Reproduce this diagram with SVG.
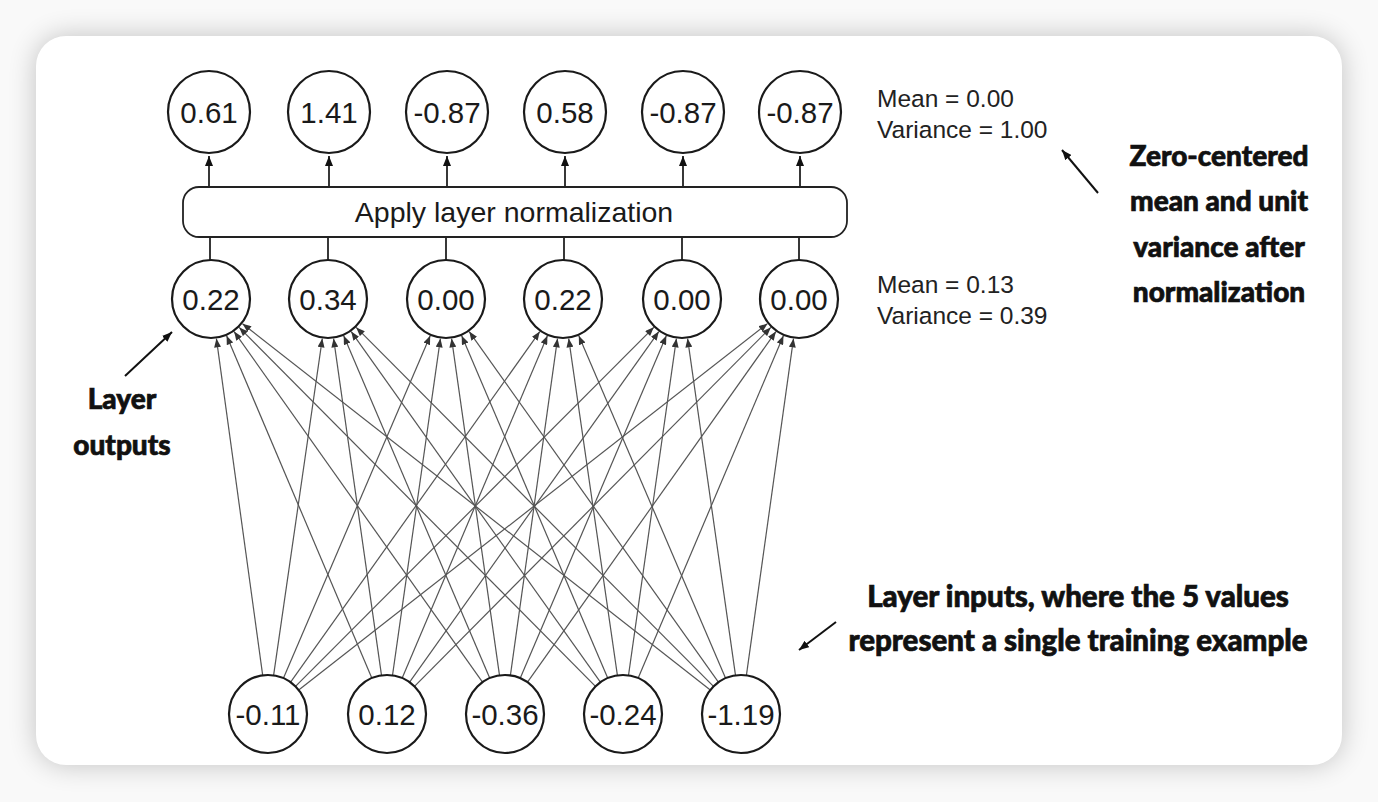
<svg xmlns="http://www.w3.org/2000/svg" width="1378" height="802" viewBox="0 0 1378 802">
<defs>
<filter id="sh" x="-10%" y="-10%" width="120%" height="120%">
<feGaussianBlur stdDeviation="14"/>
</filter>
<marker id="ah" viewBox="0 0 10 8" refX="10" refY="4" markerWidth="9" markerHeight="7" markerUnits="userSpaceOnUse" orient="auto">
<path d="M0,0 L10,4 L0,8 z" fill="#333"/>
</marker>
<marker id="ak" viewBox="0 0 10 8" refX="10" refY="4" markerWidth="10" markerHeight="8" markerUnits="userSpaceOnUse" orient="auto">
<path d="M0,0 L10,4 L0,8 z" fill="#111"/>
</marker>
<style>
.n circle{fill:#fff;stroke:#1a1a1a;stroke-width:2.2}
.n text{font-family:"Liberation Sans",Arial,sans-serif;font-size:29.5px;fill:#1a1a1a;text-anchor:middle}
.e line{stroke:#555;stroke-width:1.2;marker-end:url(#ah)}
.v line{stroke:#222;stroke-width:1.8}
.v .up{marker-end:url(#ak)}
.st{font-family:"Liberation Sans",Arial,sans-serif;font-size:24.5px;fill:#222}
.lb{font-family:Lato,"Open Sans",sans-serif;font-weight:900;font-size:28px;fill:#111;stroke:#111;stroke-width:0.7;text-anchor:middle}
.lb2{font-size:29.5px}
.an{stroke:#111;stroke-width:2;marker-end:url(#ak)}
</style>
</defs>
<rect width="1378" height="802" fill="#f9f9f9"/>
<rect x="36" y="36" width="1306" height="729" rx="30" fill="#000" opacity="0.22" filter="url(#sh)"/>
<rect x="36" y="36" width="1306" height="729" rx="30" fill="#fff"/>

<g id="connectors">
<g class="e">
<line x1="262.7" y1="675.4" x2="216.4" y2="338.6"/>
<line x1="273.6" y1="675.4" x2="322.3" y2="338.6"/>
<line x1="283.4" y1="678.2" x2="430.2" y2="335.8"/>
<line x1="290.6" y1="682.2" x2="539.8" y2="331.6"/>
<line x1="295.5" y1="686.4" x2="653.8" y2="327.3"/>
<line x1="298.7" y1="690.0" x2="767.5" y2="323.6"/>
<line x1="371.8" y1="678.1" x2="226.6" y2="335.8"/>
<line x1="381.5" y1="675.4" x2="333.6" y2="338.6"/>
<line x1="392.5" y1="675.4" x2="440.4" y2="338.6"/>
<line x1="402.2" y1="678.1" x2="547.4" y2="335.8"/>
<line x1="409.6" y1="682.2" x2="658.8" y2="331.6"/>
<line x1="414.5" y1="686.3" x2="770.8" y2="327.4"/>
<line x1="482.5" y1="682.2" x2="234.1" y2="331.6"/>
<line x1="489.7" y1="678.1" x2="343.7" y2="335.8"/>
<line x1="499.5" y1="675.4" x2="451.6" y2="338.6"/>
<line x1="510.4" y1="675.4" x2="557.5" y2="338.6"/>
<line x1="520.3" y1="678.1" x2="666.3" y2="335.8"/>
<line x1="527.5" y1="682.2" x2="775.9" y2="331.6"/>
<line x1="595.5" y1="686.3" x2="239.2" y2="327.4"/>
<line x1="600.4" y1="682.2" x2="351.2" y2="331.6"/>
<line x1="607.7" y1="678.1" x2="461.7" y2="335.8"/>
<line x1="617.4" y1="675.4" x2="568.7" y2="338.6"/>
<line x1="628.5" y1="675.4" x2="676.4" y2="338.6"/>
<line x1="638.2" y1="678.1" x2="783.4" y2="335.8"/>
<line x1="710.3" y1="690.0" x2="242.5" y2="323.7"/>
<line x1="713.5" y1="686.4" x2="356.2" y2="327.4"/>
<line x1="718.4" y1="682.2" x2="469.2" y2="331.6"/>
<line x1="725.6" y1="678.2" x2="578.8" y2="335.8"/>
<line x1="735.5" y1="675.4" x2="687.6" y2="338.6"/>
<line x1="746.4" y1="675.4" x2="793.5" y2="338.6"/>
</g>
<g class="v">
<line x1="210" y1="260" x2="210" y2="237"/>
<line x1="328" y1="260" x2="328" y2="237"/>
<line x1="446" y1="260" x2="446" y2="237"/>
<line x1="564" y1="260" x2="564" y2="237"/>
<line x1="682" y1="260" x2="682" y2="237"/>
<line x1="799" y1="260" x2="799" y2="237"/>
<line class="up" x1="209" y1="187" x2="209" y2="156"/>
<line class="up" x1="329" y1="187" x2="329" y2="156"/>
<line class="up" x1="447" y1="187" x2="447" y2="156"/>
<line class="up" x1="565" y1="187" x2="565" y2="156"/>
<line class="up" x1="683" y1="187" x2="683" y2="156"/>
<line class="up" x1="800" y1="187" x2="800" y2="156"/>
</g>
<line class="an" x1="1098" y1="193" x2="1062" y2="150"/>
<line class="an" x1="125" y1="376" x2="172" y2="332"/>
<line class="an" x1="836" y1="622" x2="799" y2="650"/>
</g>

<g id="norm">
<rect x="183" y="187" width="664" height="50" rx="16" fill="#fff" stroke="#222" stroke-width="1.8"/>
<text x="514" y="222" font-family="Liberation Sans,Arial,sans-serif" font-size="28.5" fill="#1a1a1a" text-anchor="middle">Apply layer normalization</text>
</g>

<g id="out1" class="n"><circle cx="209" cy="112" r="41"/><text x="209" y="123">0.61</text></g>
<g id="out2" class="n"><circle cx="329" cy="112" r="41"/><text x="329" y="123">1.41</text></g>
<g id="out3" class="n"><circle cx="447" cy="112" r="41"/><text x="447" y="123">-0.87</text></g>
<g id="out4" class="n"><circle cx="565" cy="112" r="41"/><text x="565" y="123">0.58</text></g>
<g id="out5" class="n"><circle cx="683" cy="112" r="41"/><text x="683" y="123">-0.87</text></g>
<g id="out6" class="n"><circle cx="800" cy="112" r="41"/><text x="800" y="123">-0.87</text></g>

<g id="mid1" class="n"><circle cx="211" cy="299" r="39"/><text x="211" y="310">0.22</text></g>
<g id="mid2" class="n"><circle cx="328" cy="299" r="39"/><text x="328" y="310">0.34</text></g>
<g id="mid3" class="n"><circle cx="446" cy="299" r="39"/><text x="446" y="310">0.00</text></g>
<g id="mid4" class="n"><circle cx="563" cy="299" r="39"/><text x="563" y="310">0.22</text></g>
<g id="mid5" class="n"><circle cx="682" cy="299" r="39"/><text x="682" y="310">0.00</text></g>
<g id="mid6" class="n"><circle cx="799" cy="299" r="39"/><text x="799" y="310">0.00</text></g>

<g id="in1" class="n"><circle cx="268" cy="714" r="39"/><text x="268" y="725">-0.11</text></g>
<g id="in2" class="n"><circle cx="387" cy="714" r="39"/><text x="387" y="725">0.12</text></g>
<g id="in3" class="n"><circle cx="505" cy="714" r="39"/><text x="505" y="725">-0.36</text></g>
<g id="in4" class="n"><circle cx="623" cy="714" r="39"/><text x="623" y="725">-0.24</text></g>
<g id="in5" class="n"><circle cx="741" cy="714" r="39"/><text x="741" y="725">-1.19</text></g>

<g id="stats-out">
<text class="st" x="877" y="107">Mean = 0.00</text>
<text class="st" x="877" y="138">Variance = 1.00</text>
</g>
<g id="stats-mid">
<text class="st" x="877" y="293">Mean = 0.13</text>
<text class="st" x="877" y="324">Variance = 0.39</text>
</g>
<g id="label-norm">
<text class="lb" x="1219" y="166">Zero-centered</text>
<text class="lb" x="1219" y="211">mean and unit</text>
<text class="lb" x="1219" y="257">variance after</text>
<text class="lb" x="1219" y="302">normalization</text>
</g>
<g id="label-outputs">
<text class="lb" x="122" y="409">Layer</text>
<text class="lb" x="122" y="455">outputs</text>
</g>
<g id="label-inputs">
<text class="lb lb2" x="1078" y="607">Layer inputs, where the 5 values</text>
<text class="lb lb2" x="1078" y="651">represent a single training example</text>
</g>
</svg>
